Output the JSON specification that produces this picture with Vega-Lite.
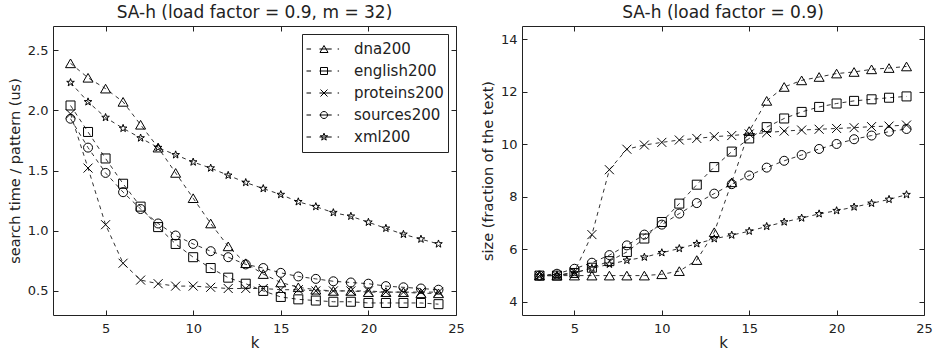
{
"$schema": "https://vega.github.io/schema/vega-lite/v6.json",
"background": "white",
"padding": {"left": 6, "top": 3, "right": 2, "bottom": 0},
"spacing": 66,
"bounds": "flush",
"config": {
  "font": "DejaVu Sans",
  "view": {"stroke": "#222", "strokeWidth": 1},
  "title": {"font": "DejaVu Sans", "fontSize": 17, "fontWeight": "normal", "color": "#222", "offset": 4},
  "axis": {"domain": false, "grid": false, "tickColor": "#222", "tickSize": -5, "labelPadding": 10, "labelFont": "DejaVu Sans", "labelFontSize": 13, "labelColor": "#222", "titleFont": "DejaVu Sans", "titleFontSize": 14.5, "titleFontWeight": "normal", "titleColor": "#222", "labelFlush": false, "labelOverlap": false, "titlePadding": 5},
  "axisX": {"labelPadding": 12, "titlePadding": 0, "titleFontSize": 15}
},
"resolve": {"scale": {"shape": "independent"}},
"datasets": {
"time": [
{"k":3,"s":"dna200","v":2.39},{"k":4,"s":"dna200","v":2.27},{"k":5,"s":"dna200","v":2.18},{"k":6,"s":"dna200","v":2.07},{"k":7,"s":"dna200","v":1.88},{"k":8,"s":"dna200","v":1.69},{"k":9,"s":"dna200","v":1.48},{"k":10,"s":"dna200","v":1.27},{"k":11,"s":"dna200","v":1.06},{"k":12,"s":"dna200","v":0.87},{"k":13,"s":"dna200","v":0.73},{"k":14,"s":"dna200","v":0.64},{"k":15,"s":"dna200","v":0.57},{"k":16,"s":"dna200","v":0.53},{"k":17,"s":"dna200","v":0.51},{"k":18,"s":"dna200","v":0.50},{"k":19,"s":"dna200","v":0.50},{"k":20,"s":"dna200","v":0.49},{"k":21,"s":"dna200","v":0.49},{"k":22,"s":"dna200","v":0.49},{"k":23,"s":"dna200","v":0.48},{"k":24,"s":"dna200","v":0.48},
{"k":3,"s":"english200","v":2.04},{"k":4,"s":"english200","v":1.82},{"k":5,"s":"english200","v":1.60},{"k":6,"s":"english200","v":1.39},{"k":7,"s":"english200","v":1.20},{"k":8,"s":"english200","v":1.03},{"k":9,"s":"english200","v":0.89},{"k":10,"s":"english200","v":0.78},{"k":11,"s":"english200","v":0.69},{"k":12,"s":"english200","v":0.61},{"k":13,"s":"english200","v":0.56},{"k":14,"s":"english200","v":0.50},{"k":15,"s":"english200","v":0.45},{"k":16,"s":"english200","v":0.43},{"k":17,"s":"english200","v":0.42},{"k":18,"s":"english200","v":0.41},{"k":19,"s":"english200","v":0.41},{"k":20,"s":"english200","v":0.40},{"k":21,"s":"english200","v":0.40},{"k":22,"s":"english200","v":0.40},{"k":23,"s":"english200","v":0.40},{"k":24,"s":"english200","v":0.39},
{"k":3,"s":"proteins200","v":1.97},{"k":4,"s":"proteins200","v":1.52},{"k":5,"s":"proteins200","v":1.05},{"k":6,"s":"proteins200","v":0.73},{"k":7,"s":"proteins200","v":0.59},{"k":8,"s":"proteins200","v":0.56},{"k":9,"s":"proteins200","v":0.54},{"k":10,"s":"proteins200","v":0.54},{"k":11,"s":"proteins200","v":0.53},{"k":12,"s":"proteins200","v":0.52},{"k":13,"s":"proteins200","v":0.52},{"k":14,"s":"proteins200","v":0.52},{"k":15,"s":"proteins200","v":0.51},{"k":16,"s":"proteins200","v":0.51},{"k":17,"s":"proteins200","v":0.50},{"k":18,"s":"proteins200","v":0.50},{"k":19,"s":"proteins200","v":0.50},{"k":20,"s":"proteins200","v":0.50},{"k":21,"s":"proteins200","v":0.49},{"k":22,"s":"proteins200","v":0.49},{"k":23,"s":"proteins200","v":0.49},{"k":24,"s":"proteins200","v":0.49},
{"k":3,"s":"sources200","v":1.93},{"k":4,"s":"sources200","v":1.69},{"k":5,"s":"sources200","v":1.48},{"k":6,"s":"sources200","v":1.32},{"k":7,"s":"sources200","v":1.18},{"k":8,"s":"sources200","v":1.06},{"k":9,"s":"sources200","v":0.96},{"k":10,"s":"sources200","v":0.89},{"k":11,"s":"sources200","v":0.83},{"k":12,"s":"sources200","v":0.78},{"k":13,"s":"sources200","v":0.72},{"k":14,"s":"sources200","v":0.69},{"k":15,"s":"sources200","v":0.65},{"k":16,"s":"sources200","v":0.62},{"k":17,"s":"sources200","v":0.60},{"k":18,"s":"sources200","v":0.58},{"k":19,"s":"sources200","v":0.57},{"k":20,"s":"sources200","v":0.56},{"k":21,"s":"sources200","v":0.54},{"k":22,"s":"sources200","v":0.53},{"k":23,"s":"sources200","v":0.52},{"k":24,"s":"sources200","v":0.51},
{"k":3,"s":"xml200","v":2.23},{"k":4,"s":"xml200","v":2.07},{"k":5,"s":"xml200","v":1.94},{"k":6,"s":"xml200","v":1.85},{"k":7,"s":"xml200","v":1.77},{"k":8,"s":"xml200","v":1.69},{"k":9,"s":"xml200","v":1.63},{"k":10,"s":"xml200","v":1.57},{"k":11,"s":"xml200","v":1.52},{"k":12,"s":"xml200","v":1.46},{"k":13,"s":"xml200","v":1.40},{"k":14,"s":"xml200","v":1.35},{"k":15,"s":"xml200","v":1.30},{"k":16,"s":"xml200","v":1.24},{"k":17,"s":"xml200","v":1.20},{"k":18,"s":"xml200","v":1.15},{"k":19,"s":"xml200","v":1.12},{"k":20,"s":"xml200","v":1.07},{"k":21,"s":"xml200","v":1.02},{"k":22,"s":"xml200","v":0.97},{"k":23,"s":"xml200","v":0.93},{"k":24,"s":"xml200","v":0.89}
],
"size": [
{"k":3,"s":"dna200","v":5.0},{"k":4,"s":"dna200","v":5.0},{"k":5,"s":"dna200","v":5.0},{"k":6,"s":"dna200","v":5.0},{"k":7,"s":"dna200","v":5.0},{"k":8,"s":"dna200","v":5.0},{"k":9,"s":"dna200","v":5.0},{"k":10,"s":"dna200","v":5.05},{"k":11,"s":"dna200","v":5.17},{"k":12,"s":"dna200","v":5.59},{"k":13,"s":"dna200","v":6.65},{"k":14,"s":"dna200","v":8.55},{"k":15,"s":"dna200","v":10.5},{"k":16,"s":"dna200","v":11.65},{"k":17,"s":"dna200","v":12.18},{"k":18,"s":"dna200","v":12.43},{"k":19,"s":"dna200","v":12.56},{"k":20,"s":"dna200","v":12.69},{"k":21,"s":"dna200","v":12.75},{"k":22,"s":"dna200","v":12.85},{"k":23,"s":"dna200","v":12.9},{"k":24,"s":"dna200","v":12.96},
{"k":3,"s":"english200","v":5.0},{"k":4,"s":"english200","v":5.0},{"k":5,"s":"english200","v":5.1},{"k":6,"s":"english200","v":5.3},{"k":7,"s":"english200","v":5.55},{"k":8,"s":"english200","v":5.9},{"k":9,"s":"english200","v":6.41},{"k":10,"s":"english200","v":7.04},{"k":11,"s":"english200","v":7.74},{"k":12,"s":"english200","v":8.46},{"k":13,"s":"english200","v":9.13},{"k":14,"s":"english200","v":9.72},{"k":15,"s":"english200","v":10.22},{"k":16,"s":"english200","v":10.65},{"k":17,"s":"english200","v":10.98},{"k":18,"s":"english200","v":11.23},{"k":19,"s":"english200","v":11.42},{"k":20,"s":"english200","v":11.55},{"k":21,"s":"english200","v":11.65},{"k":22,"s":"english200","v":11.71},{"k":23,"s":"english200","v":11.77},{"k":24,"s":"english200","v":11.82},
{"k":3,"s":"proteins200","v":5.0},{"k":4,"s":"proteins200","v":5.0},{"k":5,"s":"proteins200","v":5.14},{"k":6,"s":"proteins200","v":6.56},{"k":7,"s":"proteins200","v":9.03},{"k":8,"s":"proteins200","v":9.81},{"k":9,"s":"proteins200","v":9.97},{"k":10,"s":"proteins200","v":10.07},{"k":11,"s":"proteins200","v":10.16},{"k":12,"s":"proteins200","v":10.22},{"k":13,"s":"proteins200","v":10.29},{"k":14,"s":"proteins200","v":10.33},{"k":15,"s":"proteins200","v":10.39},{"k":16,"s":"proteins200","v":10.44},{"k":17,"s":"proteins200","v":10.5},{"k":18,"s":"proteins200","v":10.54},{"k":19,"s":"proteins200","v":10.57},{"k":20,"s":"proteins200","v":10.6},{"k":21,"s":"proteins200","v":10.63},{"k":22,"s":"proteins200","v":10.67},{"k":23,"s":"proteins200","v":10.69},{"k":24,"s":"proteins200","v":10.73},
{"k":3,"s":"sources200","v":5.0},{"k":4,"s":"sources200","v":5.07},{"k":5,"s":"sources200","v":5.26},{"k":6,"s":"sources200","v":5.49},{"k":7,"s":"sources200","v":5.78},{"k":8,"s":"sources200","v":6.15},{"k":9,"s":"sources200","v":6.56},{"k":10,"s":"sources200","v":6.94},{"k":11,"s":"sources200","v":7.36},{"k":12,"s":"sources200","v":7.76},{"k":13,"s":"sources200","v":8.12},{"k":14,"s":"sources200","v":8.48},{"k":15,"s":"sources200","v":8.81},{"k":16,"s":"sources200","v":9.11},{"k":17,"s":"sources200","v":9.37},{"k":18,"s":"sources200","v":9.59},{"k":19,"s":"sources200","v":9.82},{"k":20,"s":"sources200","v":10.01},{"k":21,"s":"sources200","v":10.19},{"k":22,"s":"sources200","v":10.33},{"k":23,"s":"sources200","v":10.48},{"k":24,"s":"sources200","v":10.58},
{"k":3,"s":"xml200","v":5.0},{"k":4,"s":"xml200","v":5.0},{"k":5,"s":"xml200","v":5.1},{"k":6,"s":"xml200","v":5.28},{"k":7,"s":"xml200","v":5.43},{"k":8,"s":"xml200","v":5.58},{"k":9,"s":"xml200","v":5.7},{"k":10,"s":"xml200","v":5.87},{"k":11,"s":"xml200","v":6.03},{"k":12,"s":"xml200","v":6.21},{"k":13,"s":"xml200","v":6.4},{"k":14,"s":"xml200","v":6.54},{"k":15,"s":"xml200","v":6.69},{"k":16,"s":"xml200","v":6.87},{"k":17,"s":"xml200","v":7.04},{"k":18,"s":"xml200","v":7.19},{"k":19,"s":"xml200","v":7.35},{"k":20,"s":"xml200","v":7.47},{"k":21,"s":"xml200","v":7.61},{"k":22,"s":"xml200","v":7.75},{"k":23,"s":"xml200","v":7.9},{"k":24,"s":"xml200","v":8.08}
]
},
"hconcat": [
{
  "width": 403, "height": 289,
  "title": "SA-h (load factor = 0.9, m = 32)",
  "data": {"name": "time"},
  "resolve": {"scale": {"shape": "independent"}, "axis": {"x": "independent", "y": "independent"}},
  "layer": [
    {"mark": {"type": "line", "stroke": "#333", "strokeWidth": 1, "strokeDash": [4, 4]},
     "encoding": {
       "x": {"field": "k", "type": "quantitative", "scale": {"domain": [2, 25], "nice": false, "zero": false}, "axis": {"orient": "bottom", "values": [5, 10, 15, 20, 25], "title": "k"}},
       "y": {"field": "v", "type": "quantitative", "scale": {"domain": [0.3, 2.7], "nice": false, "zero": false}, "axis": {"orient": "left", "values": [0.5, 1, 1.5, 2, 2.5], "format": ".1f", "title": "search time / pattern (us)"}},
       "detail": {"field": "s", "type": "nominal"}
     }},
    {"mark": {"type": "point", "filled": false, "stroke": "black", "strokeWidth": 1, "size": 100, "opacity": 1},
     "encoding": {
       "x": {"field": "k", "type": "quantitative", "axis": {"orient": "top", "values": [5, 10, 15, 20, 25], "labels": false, "title": null}},
       "y": {"field": "v", "type": "quantitative", "axis": {"orient": "right", "values": [0.5, 1, 1.5, 2, 2.5], "labels": false, "title": null}},
       "shape": {"field": "s", "type": "nominal", "legend": null, "scale": {"domain": ["dna200", "english200", "proteins200", "sources200", "xml200"], "range": ["M0,-0.866L1,0.866L-1,0.866Z", "M-0.9,-0.9L0.9,-0.9L0.9,0.9L-0.9,0.9Z", "M-0.9,-0.9L0.9,0.9M-0.9,0.9L0.9,-0.9", "M0.9,0A0.9,0.9 0 1,1 -0.9,0A0.9,0.9 0 1,1 0.9,0Z", "M0,-0.8L0.188,-0.259L0.761,-0.247L0.304,0.099L0.47,0.647L0,0.32L-0.47,0.647L-0.304,0.099L-0.761,-0.247L-0.188,-0.259Z"]}}
     }},
    {"transform": [{"filter": "false"}],
     "mark": {"type": "point", "filled": false, "stroke": "black", "strokeWidth": 1, "opacity": 1},
     "encoding": {
       "x": {"field": "k", "type": "quantitative", "axis": null},
       "y": {"field": "v", "type": "quantitative", "axis": null},
       "shape": {"field": "s", "type": "nominal",
         "scale": {"domain": ["dna200", "english200", "proteins200", "sources200", "xml200"], "range": [
           "M-1,0L-0.74,0M-0.26,0L0.44,0M0.78,0L0.86,0M0,-0.2L0.23,0.2L-0.23,0.2Z",
           "M-1,0L-0.74,0M-0.26,0L0.44,0M0.78,0L0.86,0M-0.2,-0.2L0.2,-0.2L0.2,0.2L-0.2,0.2Z",
           "M-1,0L-0.74,0M-0.26,0L0.44,0M0.78,0L0.86,0M-0.2,-0.2L0.2,0.2M-0.2,0.2L0.2,-0.2",
           "M-1,0L-0.74,0M-0.26,0L0.44,0M0.78,0L0.86,0M0.2,0A0.2,0.2 0 1,1 -0.2,0A0.2,0.2 0 1,1 0.2,0Z",
           "M-1,0L-0.74,0M-0.26,0L0.44,0M0.78,0L0.86,0M0,-0.22L0.052,-0.071L0.209,-0.068L0.084,0.027L0.129,0.178L0,0.088L-0.129,0.178L-0.084,0.027L-0.209,-0.068L-0.052,-0.071Z"]},
         "legend": {"title": null, "orient": "top-right", "offset": 8, "padding": 4, "strokeColor": "#222", "fillColor": "white", "cornerRadius": 0, "symbolSize": 1225, "symbolStrokeColor": "black", "symbolStrokeWidth": 1, "symbolFillColor": "transparent", "symbolOpacity": 1, "labelFont": "DejaVu Sans", "labelFontSize": 15, "labelColor": "#222", "labelOffset": 12, "clipHeight": 22, "rowPadding": 0}}
     }}
  ]
},
{
  "width": 402, "height": 289,
  "title": "SA-h (load factor = 0.9)",
  "data": {"name": "size"},
  "resolve": {"axis": {"x": "independent", "y": "independent"}},
  "layer": [
    {"mark": {"type": "line", "stroke": "#333", "strokeWidth": 1, "strokeDash": [4, 4]},
     "encoding": {
       "x": {"field": "k", "type": "quantitative", "scale": {"domain": [2, 25], "nice": false, "zero": false}, "axis": {"orient": "bottom", "values": [5, 10, 15, 20, 25], "title": "k"}},
       "y": {"field": "v", "type": "quantitative", "scale": {"domain": [3.5, 14.5], "nice": false, "zero": false}, "axis": {"orient": "left", "values": [4, 6, 8, 10, 12, 14], "title": "size (fraction of the text)"}},
       "detail": {"field": "s", "type": "nominal"}
     }},
    {"mark": {"type": "point", "filled": false, "stroke": "black", "strokeWidth": 1, "size": 100, "opacity": 1},
     "encoding": {
       "x": {"field": "k", "type": "quantitative", "axis": {"orient": "top", "values": [5, 10, 15, 20, 25], "labels": false, "title": null}},
       "y": {"field": "v", "type": "quantitative", "axis": {"orient": "right", "values": [4, 6, 8, 10, 12, 14], "labels": false, "title": null}},
       "shape": {"field": "s", "type": "nominal", "legend": null, "scale": {"domain": ["dna200", "english200", "proteins200", "sources200", "xml200"], "range": ["M0,-0.866L1,0.866L-1,0.866Z", "M-0.9,-0.9L0.9,-0.9L0.9,0.9L-0.9,0.9Z", "M-0.9,-0.9L0.9,0.9M-0.9,0.9L0.9,-0.9", "M0.9,0A0.9,0.9 0 1,1 -0.9,0A0.9,0.9 0 1,1 0.9,0Z", "M0,-0.8L0.188,-0.259L0.761,-0.247L0.304,0.099L0.47,0.647L0,0.32L-0.47,0.647L-0.304,0.099L-0.761,-0.247L-0.188,-0.259Z"]}}
     }}
  ]
}
]
}
